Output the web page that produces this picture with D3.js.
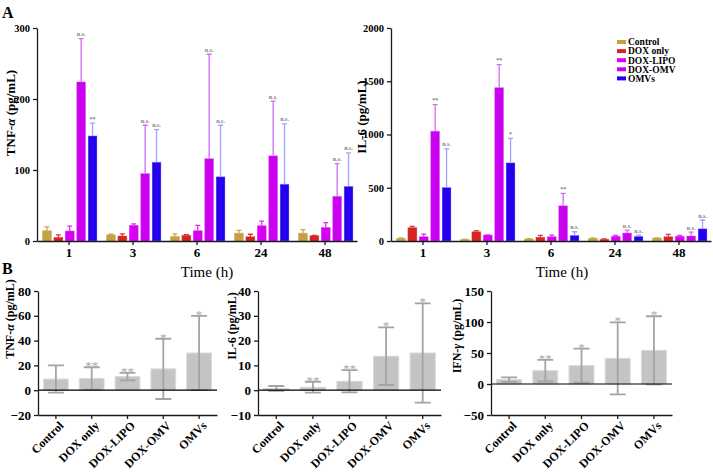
<!DOCTYPE html>
<html>
<head>
<meta charset="utf-8">
<script src="https://cdn.jsdelivr.net/npm/d3@7"></script>
<style>
body { margin: 0; background: #fff; }
svg text { font-family: "Liberation Serif", "Times New Roman", serif; }
</style>
</head>
<body>
<script>
// categories
var timeLabels = ["1", "3", "6", "24", "48"];
var seriesNames = ["Control", "DOX only", "DOX-LIPO", "DOX-OMV", "OMVs"];
var seriesColors = ["#c4a244", "#d42424", "#d800f2", "#cc00f0", "#2400ee"];
var errColors = ["#c8a64c", "#d63a3a", "#d830f0", "#d66cf2", "#a4a0ff"];

// panel A, TNF-alpha: one row per time point, one value per group
var tnfMean = [
    [14.5, 5, 14, 224, 148],
    [8.5, 7, 22, 95, 111],
    [6.5, 8, 14.5, 116, 90.5],
    [11, 6, 21.5, 120, 80],
    [11, 7.5, 19, 63, 77]
];
var tnfSd = [
    [5.5, 3.5, 7, 61, 18],
    [1, 3, 2, 68, 46],
    [3.5, 1, 7.5, 147, 72.5],
    [4, 3.5, 6.5, 77, 85],
    [5, 0.5, 7, 46, 47]
];
var tnfMarks = [["n.s.", "**"], ["n.s.", "n.s."], ["n.s.", "n.s."], ["n.s.", "n.s."], ["n.s.", "n.s."]];
var tnfTicks = [0, 100, 200, 300];

// panel A, IL-6
var il6Mean = [
    [25, 125, 40, 1031, 503],
    [15, 87, 56, 1440, 734],
    [19, 35, 40, 331, 53],
    [25, 16, 44, 75, 44],
    [28, 40, 44, 47, 115]
];
var il6Sd = [
    [5, 13, 25, 249, 362],
    [3, 10, 2, 216, 229],
    [3, 18, 16, 116, 34],
    [5, 4, 9, 28, 12],
    [2, 23, 9, 37, 82]
];
var il6Marks = [["**", "n.s."], ["**", "*"], ["**", "n.s."], ["n.s.", "n.s."], ["n.s.", "n.s."]];
var il6Ticks = [0, 500, 1000, 1500, 2000];

// panel B
var tnfBMean = [9, 9.5, 11, 17.2, 30];
var tnfBSd = [11, 9, 3, 24.3, 30];
var tnfBTicks = [-20, 0, 20, 40, 60, 80];
var il6BMean = [0.7, 1.2, 3.6, 13.7, 15];
var il6BSd = [1, 2.2, 4.5, 11.6, 20];
var il6BTicks = [-10, 0, 10, 20, 30, 40];
var ifnBMean = [7, 21.5, 29.6, 41.4, 54.3];
var ifnBSd = [3.7, 17.5, 27.4, 58, 55];
var ifnBTicks = [-50, 0, 50, 100, 150];
var bMarks = ["", "**", "**", "*", "*"];
var ifnBMarks = ["", "**", "*", "*", "*"];

var w = 713, h = 473;
var font = "'Liberation Serif', 'Times New Roman', serif";

var svg = d3.select("body")
    .append("svg")
    .attr("width", w)
    .attr("height", h);

//panel letters
svg.append("text").attr("x", 2).attr("y", 18)
    .style("font-size", "16px").style("font-weight", "bold").text("A");
svg.append("text").attr("x", 2).attr("y", 274)
    .style("font-size", "16px").style("font-weight", "bold").text("B");

//rotated y title, alpha/gamma in italics
function yTitle(x, y, name, greek, size){
    var t = svg.append("text")
        .attr("transform", "translate(" + x + "," + y + ") rotate(-90)")
        .attr("text-anchor", "middle")
        .attr("dy", "0.35em")
        .style("font-size", size + "px")
        .style("font-weight", "bold");
    t.append("tspan").text(name);
    if (greek) {
        t.append("tspan").style("font-style", "italic").text(greek);
    }
    t.append("tspan").text(" (pg/mL)");
}

// grouped bars over time (panel A)
function timeChart(c){
    var x0 = d3.scaleBand().domain(timeLabels).range([c.left, c.right]);
    var x1 = d3.scaleBand().domain(seriesNames).range([5.5, 60]).paddingInner(0.22);
    var y = d3.scaleLinear().domain([0, c.max]).range([c.bottom, c.top]);

    var rows = [];
    timeLabels.forEach(function(t, i){
        seriesNames.forEach(function(s, j){
            rows.push({t: t, s: s, j: j, m: c.mean[i][j], sd: c.sd[i][j],
                mark: j >= 3 ? c.marks[i][j - 3] : ""});
        });
    });

    var g = svg.append("g");

    g.selectAll(".bar")
        .data(rows)
        .enter()
        .append("rect")
        .attr("x", function(d){ return x0(d.t) + x1(d.s); })
        .attr("y", function(d){ return y(d.m); })
        .attr("width", x1.bandwidth())
        .attr("height", function(d){ return c.bottom - y(d.m); })
        .style("fill", function(d){ return seriesColors[d.j]; })
        .style("stroke", function(d){ return errColors[d.j]; })
        .style("stroke-opacity", 0.5)
        .style("stroke-width", 0.8);

    var cx = function(d){ return x0(d.t) + x1(d.s) + x1.bandwidth() / 2; };

    //upper error bars
    g.selectAll(".err")
        .data(rows)
        .enter()
        .append("path")
        .attr("d", function(d){
            var top = y(d.m + d.sd), x = cx(d);
            return "M" + x + "," + y(d.m) + "V" + top + "M" + (x - 2.5) + "," + top + "H" + (x + 2.5);
        })
        .style("fill", "none")
        .style("stroke", function(d){ return errColors[d.j]; })
        .style("stroke-width", 1.3);

    g.selectAll(".mark")
        .data(rows.filter(function(d){ return d.mark; }))
        .enter()
        .append("text")
        .attr("x", cx)
        .attr("y", function(d){ return y(d.m + d.sd) - 2.5; })
        .attr("text-anchor", "middle")
        .style("font-size", "6px")
        .style("font-weight", "bold")
        .style("fill", "#808080")
        .text(function(d){ return d.mark; });

    var yAxis = g.append("g")
        .attr("transform", "translate(" + c.left + ",0)")
        .call(d3.axisLeft(y).tickValues(c.ticks).tickSize(4).tickSizeOuter(0).tickFormat(d3.format("d")));
    var xAxis = g.append("g")
        .attr("transform", "translate(0," + c.bottom + ")")
        .call(d3.axisBottom(x0).tickSize(4).tickSizeOuter(0));

    yAxis.selectAll("text").style("font-size", "10.5px");
    xAxis.selectAll("text").style("font-size", "13px");
    [yAxis, xAxis].forEach(function(a){
        a.attr("font-family", font).attr("font-weight", "bold");
        a.selectAll("text").style("fill", "#000");
        a.selectAll("path, line").style("stroke", "#1a1a1a").style("stroke-width", 1.3);
    });

    g.append("text")
        .attr("x", c.timeX)
        .attr("y", 277)
        .attr("text-anchor", "middle")
        .style("font-size", "15px")
        .text("Time (h)");

    yTitle(c.titleX, c.titleY, c.name, c.greek, 13);
}

// single bar chart per group (panel B)
function groupChart(c){
    var x = d3.scaleBand().domain(seriesNames).range([c.left, c.right])
        .paddingInner(0.31).paddingOuter(0.155);
    var y = d3.scaleLinear().domain([c.ticks[0], c.ticks[c.ticks.length - 1]]).range([415, 291]);

    var rows = seriesNames.map(function(s, i){
        return {s: s, m: c.mean[i], sd: c.sd[i], mark: c.marks[i]};
    });
    var g = svg.append("g");
    var cx = function(d){ return x(d.s) + x.bandwidth() / 2; };

    g.selectAll(".bar")
        .data(rows)
        .enter()
        .append("rect")
        .attr("x", function(d){ return x(d.s); })
        .attr("y", function(d){ return y(d.m); })
        .attr("width", x.bandwidth())
        .attr("height", function(d){ return y(0) - y(d.m); })
        .style("fill", "#c4c4c4")
        .style("stroke", "#dadada")
        .style("stroke-width", 1);

    //error bars, mean +/- sd
    g.selectAll(".err")
        .data(rows)
        .enter()
        .append("path")
        .attr("d", function(d){
            var hi = y(d.m + d.sd), lo = y(d.m - d.sd), xc = cx(d);
            return "M" + xc + "," + lo + "V" + hi +
                "M" + (xc - 8) + "," + hi + "H" + (xc + 8) +
                "M" + (xc - 8) + "," + lo + "H" + (xc + 8);
        })
        .style("fill", "none")
        .style("stroke", "#a4a4a4")
        .style("stroke-width", 1.8);

    g.selectAll(".mark")
        .data(rows.filter(function(d){ return d.mark; }))
        .enter()
        .append("text")
        .attr("x", cx)
        .attr("y", function(d){ return y(d.m + d.sd) + 3; })
        .attr("text-anchor", "middle")
        .style("font-size", "13px")
        .style("fill", "#a8a8a8")
        .text(function(d){ return d.mark; });

    //zero line
    g.append("line")
        .attr("x1", c.left).attr("x2", c.right)
        .attr("y1", y(0)).attr("y2", y(0))
        .style("stroke", "#000")
        .style("stroke-width", 1.2);

    var yAxis = g.append("g")
        .attr("transform", "translate(" + c.left + ",0)")
        .call(d3.axisLeft(y).tickValues(c.ticks).tickSize(4).tickSizeOuter(0).tickFormat(d3.format("d")));
    var xAxis = g.append("g")
        .attr("transform", "translate(0,415)")
        .call(d3.axisBottom(x).tickSize(4).tickSizeOuter(0));

    yAxis.selectAll("text").style("font-size", "13px");
    xAxis.selectAll("text")
        .style("font-size", "12px")
        .attr("text-anchor", "end")
        .attr("y", 0)
        .attr("dy", "0.75em")
        .attr("transform", "translate(2,5) rotate(-45)");
    [yAxis, xAxis].forEach(function(a){
        a.attr("font-family", font).attr("font-weight", "bold");
        a.selectAll("text").style("fill", "#000");
        a.selectAll("path, line").style("stroke", "#1a1a1a").style("stroke-width", 1.3);
    });

    yTitle(c.titleX, c.titleY, c.name, c.greek, 12);
}

timeChart({left: 37, right: 357, top: 28, bottom: 241, max: 300, ticks: tnfTicks,
    mean: tnfMean, sd: tnfSd, marks: tnfMarks, timeX: 207,
    name: "TNF-", greek: "\u03b1", titleX: 10, titleY: 113});
timeChart({left: 391, right: 711, top: 28, bottom: 241, max: 2000, ticks: il6Ticks,
    mean: il6Mean, sd: il6Sd, marks: il6Marks, timeX: 562,
    name: "IL-6", greek: "", titleX: 361, titleY: 117});

groupChart({left: 38, right: 217, ticks: tnfBTicks, mean: tnfBMean, sd: tnfBSd, marks: bMarks,
    name: "TNF-", greek: "\u03b1", titleX: 10, titleY: 319});
groupChart({left: 258, right: 441, ticks: il6BTicks, mean: il6BMean, sd: il6BSd, marks: bMarks,
    name: "IL-6", greek: "", titleX: 232, titleY: 326});
groupChart({left: 491, right: 672, ticks: ifnBTicks, mean: ifnBMean, sd: ifnBSd, marks: ifnBMarks,
    name: "IFN-", greek: "\u03b3", titleX: 457, titleY: 336});

//legend
var legend = svg.append("g")
    .attr("transform", "translate(617,42)");
var items = legend.selectAll(".item")
    .data(seriesNames)
    .enter()
    .append("g")
    .attr("transform", function(d, i){ return "translate(0," + (i * 9.1) + ")"; });
items.append("rect")
    .attr("y", -2)
    .attr("width", 9)
    .attr("height", 4)
    .style("fill", function(d, i){ return seriesColors[i]; });
items.append("text")
    .attr("x", 11)
    .attr("dy", "0.35em")
    .style("font-size", "9.5px")
    .style("font-weight", "bold")
    .text(function(d){ return d; });
</script>
</body>
</html>
